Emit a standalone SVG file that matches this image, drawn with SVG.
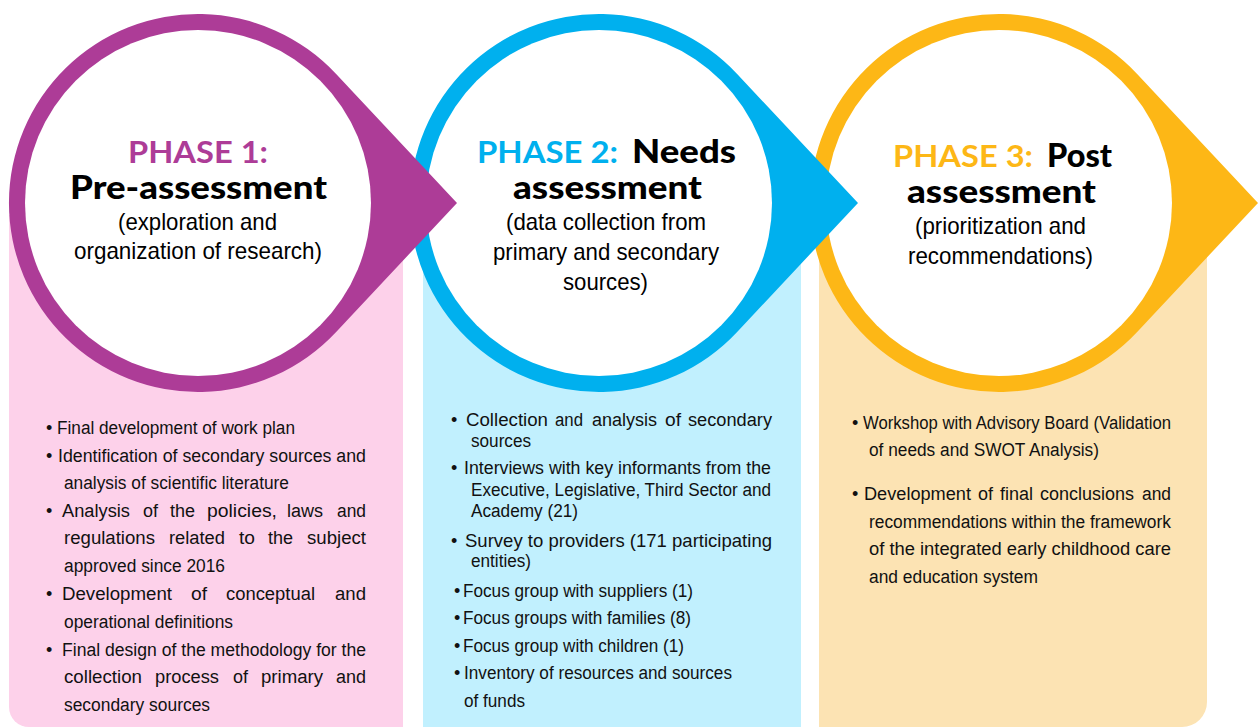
<svg xmlns="http://www.w3.org/2000/svg" width="1258" height="728" viewBox="0 0 1258 728">
<defs>
<style>
.ph{font-family:Lato,"Liberation Sans",sans-serif;font-weight:700;font-size:31px}
.tt{font-family:Lato,"Liberation Sans",sans-serif;font-weight:900;font-size:32px;fill:#000}
.sb{font-family:"Liberation Sans",Arial,sans-serif;font-size:24px;fill:#000}
.bl{font-family:"Liberation Sans",Arial,sans-serif;font-size:18px;fill:#111}
.inner{fill:#fff}
</style>
</defs>
<rect width="1258" height="728" fill="#fff"/>
<g id="connectors"/>

<g id="phase3">
<path d="M819 215 H1207 V702 A25 25 0 0 1 1182 727 H819 Z" fill="#FCE3B3"/>
<path d="M1258 203 L1136.9 73.8 A189 189 0 1 0 1136.9 332.2 Z" fill="#FDB716"/>
<circle cx="999" cy="203" r="173" class="inner"/>
<text class="ph" x="893" y="167" textLength="140" lengthAdjust="spacingAndGlyphs" fill="#FDB716">PHASE 3:</text>
<text class="tt" x="1047" y="167" textLength="65" lengthAdjust="spacingAndGlyphs">Post</text>
<text class="tt" x="907" y="203" textLength="189" lengthAdjust="spacingAndGlyphs">assessment</text>
<text class="sb" x="915" y="234" textLength="171" lengthAdjust="spacingAndGlyphs">(prioritization and</text>
<text class="sb" x="908" y="264" textLength="185" lengthAdjust="spacingAndGlyphs">recommendations)</text>
<text class="bl" x="852" y="429">•</text>
<text class="bl" x="863" y="429" textLength="308" lengthAdjust="spacingAndGlyphs">Workshop with Advisory Board (Validation</text>
<text class="bl" x="869" y="456" textLength="230" lengthAdjust="spacingAndGlyphs">of needs and SWOT Analysis)</text>
<text class="bl" x="852" y="500">•</text>
<text class="bl" x="864" y="500" textLength="107" lengthAdjust="spacingAndGlyphs">Development</text>
<text class="bl" x="978" y="500" textLength="15" lengthAdjust="spacingAndGlyphs">of</text>
<text class="bl" x="1000" y="500" textLength="33" lengthAdjust="spacingAndGlyphs">final</text>
<text class="bl" x="1040" y="500" textLength="94" lengthAdjust="spacingAndGlyphs">conclusions</text>
<text class="bl" x="1142" y="500" textLength="29" lengthAdjust="spacingAndGlyphs">and</text>
<text class="bl" x="869" y="528" textLength="302" lengthAdjust="spacingAndGlyphs">recommendations within the framework</text>
<text class="bl" x="869" y="555" textLength="302" lengthAdjust="spacingAndGlyphs">of the integrated early childhood care</text>
<text class="bl" x="869" y="583" textLength="169" lengthAdjust="spacingAndGlyphs">and education system</text>
</g>

<g id="phase2">
<path d="M423 215 H801 V727 H423 Z" fill="#C1F0FE"/>
<path d="M858 203 L736.9 73.8 A189 189 0 1 0 736.9 332.2 Z" fill="#00B0EE"/>
<circle cx="599" cy="203" r="173" class="inner"/>
<text class="ph" x="477" y="163" textLength="141" lengthAdjust="spacingAndGlyphs" fill="#00B0EE">PHASE 2:</text>
<text class="tt" x="632" y="163" textLength="104" lengthAdjust="spacingAndGlyphs">Needs</text>
<text class="tt" x="513" y="199" textLength="189" lengthAdjust="spacingAndGlyphs">assessment</text>
<text class="sb" x="506" y="230" textLength="200" lengthAdjust="spacingAndGlyphs">(data collection from</text>
<text class="sb" x="493" y="260" textLength="226" lengthAdjust="spacingAndGlyphs">primary and secondary</text>
<text class="sb" x="563" y="290" textLength="85" lengthAdjust="spacingAndGlyphs">sources)</text>
<text class="bl" x="451" y="426">•</text>
<text class="bl" x="466" y="426" textLength="82" lengthAdjust="spacingAndGlyphs">Collection</text>
<text class="bl" x="555" y="426" textLength="28" lengthAdjust="spacingAndGlyphs">and</text>
<text class="bl" x="592" y="426" textLength="65" lengthAdjust="spacingAndGlyphs">analysis</text>
<text class="bl" x="665" y="426" textLength="16" lengthAdjust="spacingAndGlyphs">of</text>
<text class="bl" x="688" y="426" textLength="84" lengthAdjust="spacingAndGlyphs">secondary</text>
<text class="bl" x="471" y="447" textLength="60" lengthAdjust="spacingAndGlyphs">sources</text>
<text class="bl" x="451" y="474">•</text>
<text class="bl" x="464" y="474" textLength="307" lengthAdjust="spacingAndGlyphs">Interviews with key informants from the</text>
<text class="bl" x="471" y="496" textLength="300" lengthAdjust="spacingAndGlyphs">Executive, Legislative, Third Sector and</text>
<text class="bl" x="471" y="517" textLength="107" lengthAdjust="spacingAndGlyphs">Academy (21)</text>
<text class="bl" x="451" y="547">•</text>
<text class="bl" x="465" y="547" style="font-size:18.5px" textLength="307" lengthAdjust="spacing">Survey to providers (171 participating</text>
<text class="bl" x="471" y="567" textLength="60" lengthAdjust="spacingAndGlyphs">entities)</text>
<text class="bl" x="454" y="597">•</text>
<text class="bl" x="463" y="597" textLength="230" lengthAdjust="spacingAndGlyphs">Focus group with suppliers (1)</text>
<text class="bl" x="454" y="624">•</text>
<text class="bl" x="463" y="624" textLength="228" lengthAdjust="spacingAndGlyphs">Focus groups with families (8)</text>
<text class="bl" x="454" y="652">•</text>
<text class="bl" x="463" y="652" textLength="221" lengthAdjust="spacingAndGlyphs">Focus group with children (1)</text>
<text class="bl" x="454" y="679">•</text>
<text class="bl" x="464" y="679" textLength="268" lengthAdjust="spacingAndGlyphs">Inventory of resources and sources</text>
<text class="bl" x="464" y="707" textLength="61" lengthAdjust="spacingAndGlyphs">of funds</text>
</g>

<g id="phase1">
<path d="M9 215 H403 V727 H29 A20 20 0 0 1 9 707 Z" fill="#FDD1EA"/>
<path d="M457 203 L335.9 73.8 A189 189 0 1 0 335.9 332.2 Z" fill="#AD3C97"/>
<circle cx="198" cy="203" r="173" class="inner"/>
<text class="ph" x="128" y="163" textLength="140" lengthAdjust="spacingAndGlyphs" fill="#AD3C97">PHASE 1:</text>
<text class="tt" x="70" y="199" textLength="257" lengthAdjust="spacingAndGlyphs">Pre-assessment</text>
<text class="sb" x="118" y="230" textLength="159" lengthAdjust="spacingAndGlyphs">(exploration and</text>
<text class="sb" x="74" y="259" textLength="248" lengthAdjust="spacingAndGlyphs">organization of research)</text>
<text class="bl" x="46" y="434">•</text>
<text class="bl" x="57" y="434" textLength="238" lengthAdjust="spacingAndGlyphs">Final development of work plan</text>
<text class="bl" x="46" y="462">•</text>
<text class="bl" x="58" y="462" textLength="308" lengthAdjust="spacingAndGlyphs">Identification of secondary sources and</text>
<text class="bl" x="64" y="489" textLength="225" lengthAdjust="spacingAndGlyphs">analysis of scientific literature</text>
<text class="bl" x="46" y="517">•</text>
<text class="bl" x="62" y="517" textLength="68" lengthAdjust="spacingAndGlyphs">Analysis</text>
<text class="bl" x="143" y="517" textLength="15" lengthAdjust="spacingAndGlyphs">of</text>
<text class="bl" x="170" y="517" textLength="25" lengthAdjust="spacingAndGlyphs">the</text>
<text class="bl" x="207" y="517" textLength="70" lengthAdjust="spacingAndGlyphs">policies,</text>
<text class="bl" x="287" y="517" textLength="36" lengthAdjust="spacingAndGlyphs">laws</text>
<text class="bl" x="337" y="517" textLength="29" lengthAdjust="spacingAndGlyphs">and</text>
<text class="bl" x="64" y="544" textLength="91" lengthAdjust="spacingAndGlyphs">regulations</text>
<text class="bl" x="169" y="544" textLength="56" lengthAdjust="spacingAndGlyphs">related</text>
<text class="bl" x="239" y="544" textLength="16" lengthAdjust="spacingAndGlyphs">to</text>
<text class="bl" x="268" y="544" textLength="25" lengthAdjust="spacingAndGlyphs">the</text>
<text class="bl" x="307" y="544" textLength="59" lengthAdjust="spacingAndGlyphs">subject</text>
<text class="bl" x="64" y="572" textLength="161" lengthAdjust="spacingAndGlyphs">approved since 2016</text>
<text class="bl" x="46" y="600">•</text>
<text class="bl" x="62" y="600" textLength="110" lengthAdjust="spacingAndGlyphs">Development</text>
<text class="bl" x="191" y="600" textLength="16" lengthAdjust="spacingAndGlyphs">of</text>
<text class="bl" x="226" y="600" textLength="89" lengthAdjust="spacingAndGlyphs">conceptual</text>
<text class="bl" x="335" y="600" textLength="31" lengthAdjust="spacingAndGlyphs">and</text>
<text class="bl" x="64" y="628" textLength="169" lengthAdjust="spacingAndGlyphs">operational definitions</text>
<text class="bl" x="46" y="656">•</text>
<text class="bl" x="62" y="656" textLength="304" lengthAdjust="spacingAndGlyphs">Final design of the methodology for the</text>
<text class="bl" x="64" y="683" textLength="78" lengthAdjust="spacingAndGlyphs">collection</text>
<text class="bl" x="155" y="683" textLength="64" lengthAdjust="spacingAndGlyphs">process</text>
<text class="bl" x="233" y="683" textLength="15" lengthAdjust="spacingAndGlyphs">of</text>
<text class="bl" x="261" y="683" textLength="62" lengthAdjust="spacingAndGlyphs">primary</text>
<text class="bl" x="336" y="683" textLength="30" lengthAdjust="spacingAndGlyphs">and</text>
<text class="bl" x="64" y="711" textLength="146" lengthAdjust="spacingAndGlyphs">secondary sources</text>
</g>
</svg>
